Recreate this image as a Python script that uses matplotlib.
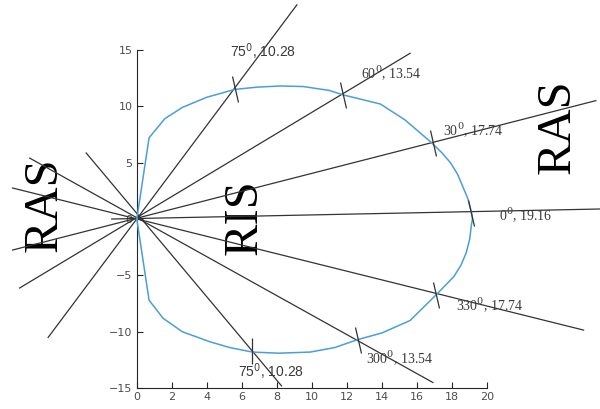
import matplotlib
matplotlib.use('Agg')
import matplotlib.pyplot as plt
from matplotlib.markers import MarkerStyle
from matplotlib.transforms import Affine2D

# Curva (contorno)
curva_x = [0, 0.7, 1.6, 2.6, 4.0, 5.6, 6.9, 8.2, 9.5, 11.0, 11.8, 13.9, 15.3, 16.8, 17.4, 17.9, 18.3, 18.6,
           18.9, 19.1, 19.16,
           19.1, 19.0, 18.8, 18.5, 18.1, 17.1, 15.6, 14.0, 12.6, 11.3, 9.9, 8.1, 6.6, 5.3, 4.2, 2.6, 1.5, 0.7, 0]
curva_y = [0, 7.2, 8.9, 9.9, 10.8, 11.5, 11.7, 11.8, 11.75, 11.4, 11.0, 10.2, 8.8, 6.8, 5.9, 5.0, 4.0, 2.9,
           1.8, 0.6, 0,
           -0.5, -1.8, -3.0, -4.1, -5.1, -6.7, -9.0, -10.1, -10.7, -11.4, -11.8, -11.9, -11.8, -11.4, -10.9,
           -10.0, -8.8, -7.2, 0]

# Retas pela origem: extremidade positiva e negativa
reta_x1 = [9.14, 15.6, 26.2, 26.5, 25.5, 16.9, 8.26]
reta_y1 = [19.0, 14.7, 10.5, 0.89, -9.85, -14.5, -14.8]
reta_x2 = [-5.06, -6.69, -7.09, -1.43, -7.09, -6.11, -2.89]
reta_y2 = [-10.5, -6.12, -2.75, 0.0, 2.75, 5.4, 5.86]

# Pontos de intersecao (marcados) e rotulos
marca_x = [5.6, 11.77, 16.9, 19.1, 17.1, 12.6, 6.6]
marca_y = [11.5, 11.0, 6.7, 0.5, -6.7, -10.7, -11.7]
marca_inclin = [15, 13, 15, 11, 13, 13, 0]

rotulos = ['75$^{0}$, 10.28', '60$^{0}$, 13.54', '30$^{0}$, 17.74', '0$^{0}$, 19.16',
           '330$^{0}$, 17.74', '300$^{0}$, 13.54', '75$^{0}$, 10.28']
rot_x = [5.31, 12.8, 17.5, 20.7, 18.2, 13.1, 5.77]
rot_y = [14.8, 12.95, 7.9, 0.44, -7.6, -12.25, -13.5]
rot_fonte = ['Liberation Sans', 'Liberation Serif', 'Liberation Serif', 'Liberation Serif',
             'Liberation Serif', 'Liberation Serif', 'Liberation Sans']
rot_math = ['dejavusans', 'dejavuserif', 'dejavuserif', 'dejavuserif',
            'dejavuserif', 'dejavuserif', 'dejavusans']

regioes = ['RAS', 'RIS', 'RAS']
reg_x = [-5.29, 6.17, 24.0]
reg_y = [1.24, 0.18, 8.16]

fig = plt.figure(figsize=(6.0, 4.09), dpi=100)
ax = fig.add_axes([0.228, 0.051, 0.584, 0.827])
ax.set_xlim(0, 20)
ax.set_ylim(-15, 15)

for i in range(len(reta_x1)):
    ax.plot([reta_x2[i], reta_x1[i]], [reta_y2[i], reta_y1[i]], color='#333333', lw=0.9,
            clip_on=False, zorder=2)

ax.plot(curva_x, curva_y, color='#4a9fd8', lw=1.1, clip_on=False, zorder=3)

for i in range(len(marca_x)):
    m = MarkerStyle('|', transform=Affine2D().rotate_deg(marca_inclin[i]))
    ax.plot(marca_x[i], marca_y[i], marker=m, markersize=19, markeredgewidth=0.9,
            color='#333333', clip_on=False, zorder=4)

for i in range(len(rotulos)):
    ax.text(rot_x[i], rot_y[i], rotulos[i], fontsize=10, family=rot_fonte[i], color='#3a3a3a',
            math_fontfamily=rot_math[i], ha='left', va='center', clip_on=False, zorder=5)

for i in range(len(regioes)):
    ax.text(reg_x[i], reg_y[i], regioes[i], fontsize=35, family='Liberation Serif', color='black',
            rotation=90, ha='center', va='center', clip_on=False, zorder=1)

ax.spines['top'].set_visible(False)
ax.spines['right'].set_visible(False)
for s in ['left', 'bottom']:
    ax.spines[s].set_color('#262626')
    ax.spines[s].set_linewidth(0.8)
ax.set_xticks(range(0, 21, 2))
ax.set_yticks(range(-15, 16, 5))
ax.tick_params(direction='in', length=4, width=0.8, color='#262626', labelcolor='#4d4d4d',
               labelsize=8, pad=3)
ax.patch.set_alpha(0)

plt.savefig('out.png', dpi=100)
